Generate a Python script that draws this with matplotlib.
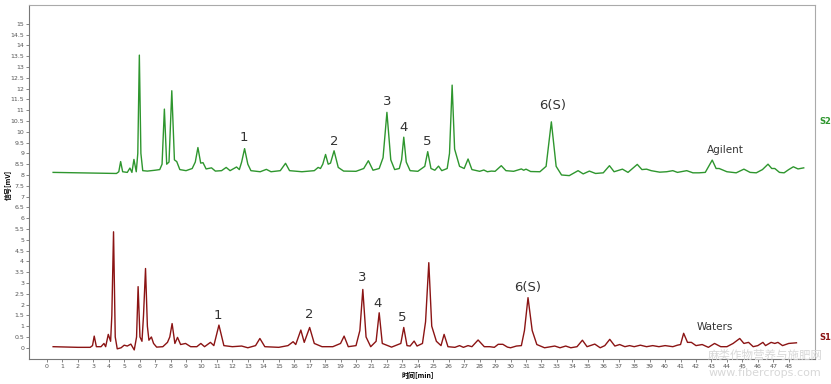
import matplotlib
matplotlib.use("Agg")
import matplotlib.pyplot as plt
import numpy as np

plt.rcParams['font.family'] = ['DejaVu Sans', 'Noto Sans CJK SC']

# Agilent (S2) trace, vertices: time [min], signal [mV]
s2_time = [0.4, 2.0, 4.0, 4.5, 4.65, 4.77, 4.9, 5.2, 5.37, 5.5, 5.63, 5.78, 5.88, 5.98, 6.08,
           6.2, 6.5, 7.0, 7.3, 7.45, 7.6, 7.75, 7.9, 8.08, 8.25, 8.4, 8.6, 9.0, 9.4, 9.6,
           9.77, 9.95, 10.1, 10.3, 10.65, 10.9, 11.3, 11.6, 11.85, 12.27, 12.45, 12.6, 12.79,
           13.0, 13.2, 13.8, 14.2, 14.5, 15.1, 15.44, 15.7, 16.5, 17.3, 17.55, 17.7, 17.85,
           18.03, 18.2, 18.35, 18.58, 18.85, 19.2, 20.0, 20.5, 20.8, 21.1, 21.5, 21.75, 22.0,
           22.25, 22.5, 22.8, 22.95, 23.09, 23.25, 23.5, 24.0, 24.45, 24.64, 24.85, 25.1,
           25.34, 25.55, 25.9, 26.05, 26.22, 26.38, 26.5, 26.7, 27.0, 27.25, 27.5, 28.0,
           28.27, 28.5, 28.76, 29.0, 29.4, 29.7, 30.2, 30.7, 30.85, 31.0, 31.3, 31.9, 32.3,
           32.64, 32.95, 33.3, 33.8, 34.37, 34.7, 35.1, 35.5, 36.0, 36.4, 36.7, 37.24, 37.6,
           38.2, 38.5, 38.8, 39.1, 39.65, 40.1, 40.5, 40.8, 41.4, 41.8, 42.2, 42.6, 43.05,
           43.3, 43.5, 44.0, 44.6, 45.1, 45.5, 45.9, 46.3, 46.66, 46.9, 47.1, 47.4, 47.7,
           48.0, 48.3, 48.6, 48.97]
s2_signal = [8.12, 8.10, 8.07, 8.07, 8.15, 8.62, 8.15, 8.12, 8.32, 8.12, 8.72, 8.15, 9.0, 13.55, 9.0,
             8.2, 8.18, 8.22, 8.25, 8.5, 11.05, 8.5, 8.6, 11.9, 8.7, 8.62, 8.25, 8.2, 8.3, 8.6,
             9.27, 8.55, 8.57, 8.28, 8.33, 8.18, 8.2, 8.35, 8.2, 8.37, 8.25, 8.6, 9.22,
             8.5, 8.2, 8.15, 8.26, 8.15, 8.2, 8.54, 8.2, 8.15, 8.2, 8.35, 8.3, 8.5,
             8.95, 8.5, 8.55, 9.12, 8.35, 8.18, 8.17, 8.3, 8.66, 8.22, 8.3, 8.8, 10.9,
             8.7, 8.25, 8.3, 8.7, 9.75, 8.6, 8.2, 8.17, 8.4, 9.08, 8.3, 8.22,
             8.41, 8.2, 8.3, 9.0, 12.16, 9.2, 8.9, 8.4, 8.3, 8.74, 8.25, 8.17,
             8.23, 8.15, 8.18, 8.17, 8.43, 8.2, 8.17, 8.28, 8.22, 8.27, 8.16, 8.15, 8.4,
             10.46, 8.4, 8.0, 7.97, 8.2, 8.05, 8.18, 8.07, 8.1, 8.43, 8.15, 8.27, 8.12,
             8.49, 8.25, 8.27, 8.2, 8.13, 8.15, 8.2, 8.12, 8.2, 8.1, 8.1, 8.12, 8.69,
             8.3, 8.3, 8.15, 8.1, 8.27, 8.12, 8.1, 8.25, 8.5, 8.3, 8.3, 8.12, 8.1,
             8.25, 8.38, 8.28, 8.33]

# Waters (S1) trace
s1_time = [0.4, 2.0, 2.8, 2.95, 3.06, 3.2, 3.5, 3.69, 3.8, 3.97, 4.12, 4.2, 4.31, 4.42, 4.55,
           4.8, 5.0, 5.2, 5.43, 5.65, 5.8, 5.9, 6.02, 6.15, 6.25, 6.38, 6.5, 6.6, 6.76, 6.9,
           7.1, 7.5, 7.8, 7.95, 8.1, 8.28, 8.45, 8.65, 8.97, 9.3, 9.7, 9.96, 10.2, 10.58,
           10.8, 11.13, 11.45, 12.0, 12.6, 13.0, 13.5, 13.78, 14.1, 15.0, 15.6, 15.93, 16.1,
           16.43, 16.65, 17.0, 17.3, 17.8, 18.5, 19.0, 19.23, 19.5, 20.0, 20.25, 20.44, 20.65,
           20.95, 21.3, 21.5, 21.7, 22.3, 22.9, 23.09, 23.3, 23.5, 23.76, 23.95, 24.3, 24.5,
           24.71, 24.9, 25.2, 25.5, 25.7, 25.95, 26.4, 26.7, 26.95, 27.25, 27.5, 27.9, 28.3,
           28.65, 28.95, 29.2, 29.5, 29.8, 30.0, 30.38, 30.7, 30.9, 31.13, 31.4, 31.7, 32.2,
           32.86, 33.2, 33.57, 33.9, 34.3, 34.65, 34.95, 35.45, 35.8, 36.1, 36.42, 36.75,
           37.06, 37.4, 37.7, 38.0, 38.4, 38.8, 39.2, 39.6, 40.0, 40.5, 40.8, 41.0, 41.2,
           41.45, 41.7, 42.0, 42.4, 42.8, 43.2, 43.6, 44.0, 44.4, 44.83, 45.1, 45.4, 45.7,
           46.0, 46.33, 46.5, 46.86, 47.1, 47.3, 47.6, 48.0, 48.5]
s1_signal = [0.05, 0.02, 0.02, 0.1, 0.54, 0.05, 0.05, 0.2, 0.05, 0.62, 0.3, 1.5, 5.37, 0.5, -0.05,
             0.0, 0.12, 0.08, 0.17, -0.1, 0.5, 2.83, 0.5, 0.3, 1.5, 3.67, 1.0, 0.35, 0.5, 0.2,
             0.03, 0.05, 0.25, 0.5, 1.12, 0.2, 0.48, 0.15, 0.2, 0.05, 0.05, 0.2, 0.05, 0.25,
             0.1, 1.05, 0.1, 0.05, 0.08, 0.0, 0.1, 0.43, 0.05, 0.02, 0.1, 0.28, 0.15,
             0.82, 0.25, 0.94, 0.2, 0.05, 0.05, 0.2, 0.54, 0.05, 0.1, 0.8, 2.7, 0.5,
             0.05, 0.3, 1.62, 0.2, 0.03, 0.2, 0.94, 0.1, 0.08, 0.31, 0.08, 0.2, 1.2,
             3.94, 1.0, 0.3, 0.1, 0.62, 0.05, 0.02, 0.1, 0.02, 0.1, 0.05, 0.36, 0.05,
             0.05, 0.02, 0.16, 0.16, 0.03, 0.0, 0.08, 0.1, 0.8, 2.32, 0.8, 0.15, 0.0,
             0.08, 0.0, 0.08, 0.0, 0.05, 0.35, 0.05, 0.17, 0.0, 0.1, 0.39, 0.08,
             0.15, 0.05, 0.1, 0.05, 0.12, 0.05, 0.1, 0.05, 0.1, 0.05, 0.12, 0.15, 0.67,
             0.25, 0.25, 0.1, 0.15, 0.02, 0.2, 0.05, 0.05, 0.2, 0.43, 0.2, 0.25, 0.05,
             0.1, 0.25, 0.1, 0.25, 0.2, 0.25, 0.1, 0.2, 0.23]

# peak labels: text, time, height
peak_names = ["1", "2", "3", "4", "5", "6(S)"]
s2_label_time = [12.75, 18.6, 22.0, 23.05, 24.6, 32.7]
s2_label_val = [9.75, 9.56, 11.4, 10.2, 9.56, 11.2]
s1_label_time = [11.06, 16.95, 20.4, 21.4, 23.0, 31.1]
s1_label_val = [1.5, 1.55, 3.26, 2.06, 1.4, 2.8]

green = '#2e962e'
red = '#8b1414'

fig = plt.figure(figsize=(8.31, 3.84), dpi=100)
ax = fig.add_axes([29/831, 25/384, 786/831, 354/384])

ax.plot(s2_time, s2_signal, color=green, linewidth=1.0)
ax.plot(s1_time, s1_signal, color=red, linewidth=1.0)

for name, t, v in zip(peak_names, s2_label_time, s2_label_val):
    ax.text(t, v, name, ha='center', va='center', fontsize=9.5, color='#333333')
for name, t, v in zip(peak_names, s1_label_time, s1_label_val):
    ax.text(t, v, name, ha='center', va='center', fontsize=9.5, color='#333333')

ax.text(43.9, 9.15, "Agilent", ha='center', va='center', fontsize=7.5, color='#333333')
ax.text(43.2, 0.95, "Waters", ha='center', va='center', fontsize=7.5, color='#333333')

ax.set_xlim(-1.16, 49.7)
ax.set_ylim(-0.52, 15.87)
ax.set_xticks(np.arange(0, 49, 1))
ax.set_yticks(np.arange(0, 15.5, 0.5))
ax.set_yticklabels(['%g' % v for v in np.arange(0, 15.5, 0.5)])
ax.tick_params(axis='both', labelsize=4.5, colors='#555555', length=2, width=0.5, pad=1.5)
for side in ['top', 'right']:
    ax.spines[side].set_color('#aaaaaa')
for side in ['left', 'bottom']:
    ax.spines[side].set_color('#777777')

fig.text(819/831, 1 - 121/384, "S2", color=green, fontsize=6, fontweight='bold', va='center')
fig.text(819/831, 1 - 337/384, "S1", color=red, fontsize=6, fontweight='bold', va='center')

fig.text(8/831, 1 - 185/384, "信号[mV]", rotation=90, fontsize=5, fontweight='bold',
         ha='center', va='center', family=['Noto Sans CJK SC', 'DejaVu Sans'])
fig.text(418/831, 1 - 375/384, "时间[min]", fontsize=5, fontweight='bold',
         ha='center', va='center', family=['Noto Sans CJK SC', 'DejaVu Sans'])

# faint watermark in the lower right corner
fig.text(765/831, 1 - 355/384, "麻类作物营养与施肥网", fontsize=8.3, color='#d8d8d8',
         ha='center', va='center', family=['Noto Sans CJK SC', 'DejaVu Sans'])
fig.text(765/831, 1 - 373/384, "www.fibercrops.com", fontsize=8, color='#d8d8d8',
         ha='center', va='center')

fig.savefig('out.png', dpi=100)
